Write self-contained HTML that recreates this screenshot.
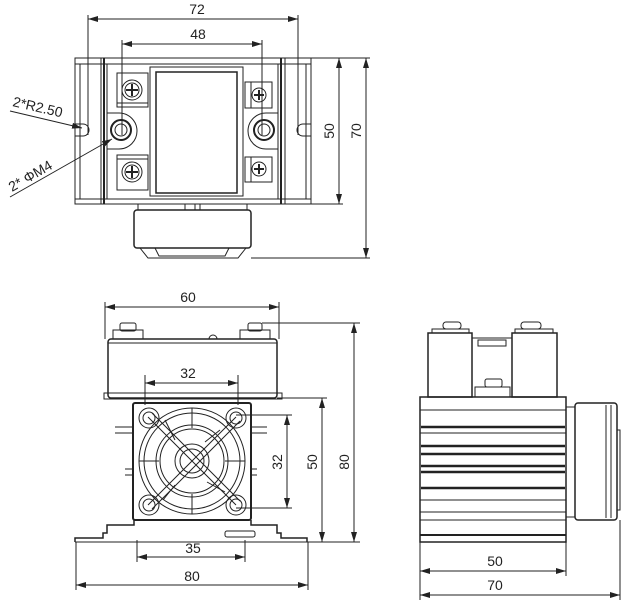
<!DOCTYPE html>
<html><head><meta charset="utf-8"><style>
html,body{margin:0;padding:0;background:#fff;}
svg{display:block;}
text{font-family:"Liberation Sans",sans-serif;font-size:14px;fill:#222;}
</style></head><body>
<svg width="629" height="615" viewBox="0 0 629 615" xmlns="http://www.w3.org/2000/svg">
<defs>
<marker id="a" markerWidth="10" markerHeight="6" refX="10" refY="3" orient="auto-start-reverse" markerUnits="userSpaceOnUse"><path d="M0,0 L10,3 L0,6 z" fill="#222"/></marker>
</defs>
<g fill="none" stroke="#222" stroke-width="1">
<!-- ===== TOP VIEW ===== -->
<rect x="75" y="58" width="236" height="146"/>
<rect x="107" y="64" width="171" height="135"/>
<line x1="101" y1="58" x2="101" y2="204"/><line x1="104" y1="58" x2="104" y2="204" stroke-width="2"/>
<line x1="281" y1="58" x2="281" y2="204" stroke-width="2"/><line x1="285" y1="58" x2="285" y2="204"/>
<line x1="75" y1="64" x2="311" y2="64"/><line x1="75" y1="199" x2="311" y2="199"/>
<line x1="80" y1="64" x2="80" y2="199"/><line x1="306" y1="64" x2="306" y2="199"/>
<rect x="150" y="67" width="93" height="129"/>
<rect x="156" y="72" width="81" height="121" stroke-width="1.5"/>
<path d="M75,124 h8 a6,6 0 0 1 0,12 h-8"/>
<path d="M311,124 h-8 a6,6 0 0 0 0,12 h8"/>
<rect x="117" y="73" width="31" height="34"/><rect x="117" y="103" width="31" height="4"/>
<circle cx="132" cy="90" r="10"/><circle cx="132" cy="90" r="7"/>
<path d="M126,90 h12 M132,84 v12" stroke-width="2"/>
<rect x="117" y="155" width="31" height="35"/><rect x="117" y="155" width="31" height="4"/>
<circle cx="132" cy="172" r="10"/><circle cx="132" cy="172" r="7"/>
<path d="M126,172 h12 M132,166 v12" stroke-width="2"/>
<path d="M107,113 h12 a18,18 0 0 1 0,36 h-12"/>
<circle cx="121" cy="130" r="10" stroke-width="2"/><circle cx="121" cy="130" r="6"/>
<rect x="245" y="82" width="27" height="26"/><rect x="245" y="82" width="6" height="26"/>
<circle cx="259" cy="95" r="7"/><path d="M254,95 h10 M259,90 v10" stroke-width="2"/>
<rect x="245" y="157" width="27" height="25"/><rect x="245" y="157" width="6" height="25"/>
<circle cx="259" cy="169" r="7"/><path d="M254,169 h10 M259,164 v10" stroke-width="2"/>
<path d="M278,113 h-12 a18,18 0 0 0 0,36 h12"/>
<circle cx="264" cy="130" r="10" stroke-width="2"/><circle cx="264" cy="130" r="6"/>
<rect x="134" y="210" width="117" height="38" rx="3" stroke-width="1.5"/>
<path d="M138,204 v6 M247,204 v6 M185,204 v6 M195,204 v6 M200,204 v6"/>
<path d="M140,248 l8,10 h90 l8,-10"/><path d="M155,248 l4,8 h66 l4,-8"/>
<line x1="88" y1="15" x2="88" y2="135"/><line x1="298" y1="15" x2="298" y2="135"/>
<line x1="88" y1="19" x2="298" y2="19" marker-start="url(#a)" marker-end="url(#a)"/>
<line x1="122" y1="40" x2="122" y2="135"/><line x1="262" y1="40" x2="262" y2="135"/>
<line x1="122" y1="44" x2="262" y2="44" marker-start="url(#a)" marker-end="url(#a)"/>
<line x1="311" y1="58" x2="370" y2="58"/><line x1="311" y1="204" x2="343" y2="204"/><line x1="251" y1="258" x2="370" y2="258"/>
<line x1="339" y1="58" x2="339" y2="204" marker-start="url(#a)" marker-end="url(#a)"/>
<line x1="366" y1="58" x2="366" y2="258" marker-start="url(#a)" marker-end="url(#a)"/>
<line x1="10" y1="111" x2="82" y2="128" marker-end="url(#a)"/>
<line x1="10" y1="197" x2="112" y2="139" marker-end="url(#a)"/>

<!-- ===== FRONT VIEW ===== -->
<rect x="108" y="339" width="169" height="59" rx="3" stroke-width="1.5"/>
<line x1="108" y1="343" x2="277" y2="343"/>
<path d="M104,393 h178 v6 h-178 z"/>
<path d="M113,330 h30 v9 h-30 z"/><rect x="120" y="323" width="16" height="8" rx="2"/>
<path d="M240,330 h30 v9 h-30 z"/><rect x="248" y="323" width="14" height="8" rx="2"/>
<path d="M209,339 a4,4 0 0 1 8,0"/>
<rect x="133" y="403" width="118" height="117" rx="2" stroke-width="2"/>
<circle cx="192" cy="461" r="53"/><circle cx="192" cy="461" r="48"/>
<circle cx="192" cy="461" r="36"/><circle cx="192" cy="461" r="32"/>
<circle cx="192" cy="461" r="17"/><circle cx="192" cy="461" r="12"/>
<path d="M148,417 L236,505 M152,413 L240,501 M236,417 L148,505 M240,421 L152,509"/>
<path d="M192,408 v20 M192,494 v20 M139,461 h20 M225,461 h20"/>
<path d="M165,420 l10,20 M220,430 l-15,12 M163,500 l12,-15 M225,492 l-18,-10" />
<circle cx="149" cy="418" r="10"/><circle cx="149" cy="418" r="6"/>
<circle cx="236" cy="418" r="10"/><circle cx="236" cy="418" r="6"/>
<circle cx="149" cy="505" r="10"/><circle cx="149" cy="505" r="6"/>
<circle cx="236" cy="505" r="10"/><circle cx="236" cy="505" r="6"/>
<path d="M115,427 h18 M115,433 h18 M251,427 h16 M251,433 h16 M125,469 h8 M125,475 h8 M251,469 h6 M251,475 h6"/>
<path d="M75,542 V538 H103 V533 H107 V525 H134 V520" stroke-width="1.5"/>
<path d="M251,520 V525 H277 V533 H281 V538 H307 V542" stroke-width="1.5"/>
<path d="M75,542 H307"/>
<rect x="225" y="531" width="30" height="6" rx="2"/>
<line x1="105" y1="302" x2="105" y2="339"/><line x1="279" y1="302" x2="279" y2="339"/>
<line x1="105" y1="307" x2="279" y2="307" marker-start="url(#a)" marker-end="url(#a)"/>
<line x1="145" y1="375" x2="145" y2="405"/><line x1="238" y1="375" x2="238" y2="405"/>
<line x1="145" y1="383" x2="238" y2="383" marker-start="url(#a)" marker-end="url(#a)"/>
<line x1="236" y1="415" x2="292" y2="415"/><line x1="236" y1="508" x2="292" y2="508"/>
<line x1="287" y1="415" x2="287" y2="508" marker-start="url(#a)" marker-end="url(#a)"/>
<line x1="277" y1="398" x2="327" y2="398"/><line x1="307" y1="542" x2="360" y2="542"/>
<line x1="322" y1="398" x2="322" y2="542" marker-start="url(#a)" marker-end="url(#a)"/>
<line x1="262" y1="323" x2="360" y2="323"/>
<line x1="354" y1="323" x2="354" y2="542" marker-start="url(#a)" marker-end="url(#a)"/>
<line x1="137" y1="540" x2="137" y2="562"/><line x1="245" y1="540" x2="245" y2="562"/>
<line x1="137" y1="557" x2="245" y2="557" marker-start="url(#a)" marker-end="url(#a)"/>
<line x1="76" y1="542" x2="76" y2="590"/><line x1="308" y1="542" x2="308" y2="590"/>
<line x1="76" y1="585" x2="308" y2="585" marker-start="url(#a)" marker-end="url(#a)"/>

<!-- ===== SIDE VIEW ===== -->
<rect x="428" y="333" width="44" height="64" stroke-width="1.5"/>
<rect x="472" y="338" width="40" height="59"/>
<rect x="512" y="333" width="45" height="64" stroke-width="1.5"/>
<path d="M432,333 v-4 h37 v4 M515,333 v-4 h38 v4"/>
<rect x="443" y="322" width="18" height="7" rx="3"/><rect x="521" y="322" width="20" height="7" rx="3"/>
<path d="M478,340 h28 v6 h-28 z"/>
<rect x="485" y="379" width="17" height="8" rx="2"/><rect x="475" y="387" width="35" height="10"/>
<rect x="420" y="397" width="146" height="145" stroke-width="1.5"/>
<line x1="420" y1="410" x2="566" y2="410"/>
<g stroke-width="2.5">
<line x1="421" y1="427" x2="565" y2="427"/><line x1="421" y1="446" x2="565" y2="446"/>
<line x1="421" y1="454" x2="565" y2="454"/><line x1="421" y1="466" x2="565" y2="466"/>
<line x1="421" y1="472" x2="565" y2="472"/><line x1="421" y1="488" x2="565" y2="488"/>
</g>
<line x1="420" y1="433" x2="566" y2="433"/><line x1="420" y1="500" x2="566" y2="500"/>
<line x1="420" y1="512" x2="566" y2="512"/><line x1="420" y1="520" x2="566" y2="520"/>
<line x1="420" y1="535" x2="566" y2="535" stroke-width="2"/>
<rect x="566" y="407" width="9" height="110"/>
<rect x="575" y="403" width="42" height="117" rx="3" stroke-width="1.5"/>
<path d="M606,405 v113 M611,405 v113 M617,430 h3 v80 h-3"/>
<line x1="420" y1="542" x2="420" y2="600"/><line x1="566" y1="542" x2="566" y2="576"/>
<line x1="620" y1="520" x2="620" y2="600"/>
<line x1="420" y1="571" x2="566" y2="571" marker-start="url(#a)" marker-end="url(#a)"/>
<line x1="420" y1="595" x2="620" y2="595" marker-start="url(#a)" marker-end="url(#a)"/>
</g>
<text x="197" y="14" text-anchor="middle">72</text>
<text x="198" y="39" text-anchor="middle">48</text>
<text transform="translate(334,131) rotate(-90)" text-anchor="middle">50</text>
<text transform="translate(361,131) rotate(-90)" text-anchor="middle">70</text>
<text transform="translate(12,106) rotate(13)">2*R2.50</text>
<text transform="translate(12,192) rotate(-30)">2* ΦM4</text>
<text x="188" y="302" text-anchor="middle">60</text>
<text x="188" y="378" text-anchor="middle">32</text>
<text transform="translate(282,462) rotate(-90)" text-anchor="middle">32</text>
<text transform="translate(317,462) rotate(-90)" text-anchor="middle">50</text>
<text transform="translate(349,462) rotate(-90)" text-anchor="middle">80</text>
<text x="193" y="553" text-anchor="middle">35</text>
<text x="192" y="581" text-anchor="middle">80</text>
<text x="495" y="566" text-anchor="middle">50</text>
<text x="495" y="590" text-anchor="middle">70</text>
</svg>
</body></html>
